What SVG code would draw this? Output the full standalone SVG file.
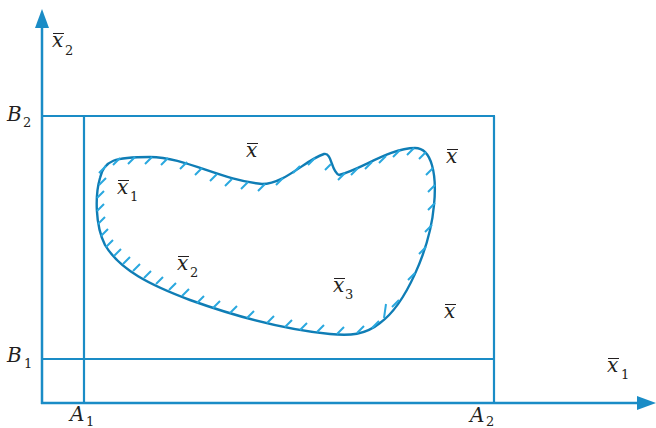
<svg xmlns="http://www.w3.org/2000/svg" width="656" height="428" viewBox="0 0 656 428">
<style>
.frame{stroke:#1a8cc6;stroke-width:2.2;fill:none}
.axis{stroke:#1a8cc6;stroke-width:2.5;fill:none}
.head{fill:#1a8cc6}
.blob{stroke:#0f7db5;stroke-width:2.4;fill:none}
.hatch{stroke:#2aa8df;stroke-width:2;fill:none;stroke-linecap:butt}
.bar{stroke:#231f20;stroke-width:1}
</style>
<rect width="656" height="428" fill="#ffffff"/>
<g id="connectors">
<line class="axis" x1="42" y1="404" x2="42" y2="26"/>
<polygon class="head" points="42,9 35,28 49,28"/>
<line class="axis" x1="41" y1="403" x2="640" y2="403"/>
<polygon class="head" points="656,403 637,396 637,410"/>
<line class="frame" x1="42" y1="116" x2="495" y2="116"/>
<line class="frame" x1="42" y1="359" x2="495" y2="359"/>
<line class="frame" x1="84" y1="116" x2="84" y2="403"/>
<line class="frame" x1="494" y1="116" x2="494" y2="403"/>
</g>
<g id="region">
<path class="blob" d="M100,178 C104,160 115,157 150,157 C185,157 220,180 262,184 C285,184 305,160 324,154 C332,152 331,172 339,175 C360,170 390,148 415,148 C432,148 437,175 434,205 C430,250 405,305 380,323 C365,335 350,336 330,334 C290,330 240,318 190,300 C150,285 120,270 105,245 C95,225 95,195 100,178 Z"/>
<path class="hatch" d="M106,166 l-7,7 M120,158 l-7,7 M135,157 l-7,7 M152,157 l-7,7 M168,158 l-7,7 M187,162 l-7,7 M202,168 l-7,7 M217,174 l-7,7 M232,179 l-7,7 M248,182 l-7,7 M265,184 l-7,7 M283,178 l-7,7 M300,166 l-7,7 M315,158 l-7,7 M331,164 l-6,6 M345,173 l-7,7 M358,168 l-7,7 M372,162 l-7,7 M386,156 l-7,7 M400,150 l-7,7 M414,148 l-7,7
M426,152 l-7,7 M433,168 l-7,7 M435,185 l-7,7 M435,203 l-7,7 M432,225 l-7,7 M426,247 l-7,7 M415,273 l-7,7 M399,300 l-7,7
M197,303 l7,-7 M213,308 l7,-7 M230,313 l7,-7 M247,318 l7,-7 M267,323 l7,-7 M285,327 l7,-7 M300,330 l7,-7 M317,332 l7,-7 M337,334 l7,-7 M357,333 l7,-7 M372,328 l7,-7 M384,318 l2,-14
M99,185 l7,-7 M97,198 l7,-7 M97,211 l7,-7 M98,224 l7,-7 M101,236 l7,-7 M106,247 l7,-7 M114,256 l7,-7 M123,264 l7,-7 M133,271 l7,-7 M144,278 l7,-7 M156,284 l7,-7 M169,290 l7,-7 M182,296 l7,-7"/>
</g>
<g font-family="DejaVu Serif, Liberation Serif, serif" fill="#231f20">
<g font-style="italic" font-size="20">
<g id="label-x2-axis"><text x="52" y="47">x</text><text font-style="normal" font-size="13" x="65" y="55">2</text><line class="bar" x1="53" y1="33.5" x2="64" y2="33.5"/></g>
<g id="label-x1-axis"><text x="607" y="372">x</text><text font-style="normal" font-size="13" x="621" y="379">1</text><line class="bar" x1="608" y1="358.5" x2="619" y2="358.5"/></g>
<g id="label-B2"><text x="7" y="121">B</text><text font-style="normal" font-size="13" x="23" y="127">2</text></g>
<g id="label-B1"><text x="7" y="362">B</text><text font-style="normal" font-size="13" x="24" y="368">1</text></g>
<g id="label-A1"><text x="70" y="421">A</text><text font-style="normal" font-size="13" x="86" y="426">1</text></g>
<g id="label-A2"><text x="470" y="422">A</text><text font-style="normal" font-size="13" x="486" y="426">2</text></g>
<g id="label-x-top"><text x="246" y="157">x</text><line class="bar" x1="247" y1="143.5" x2="258" y2="143.5"/></g>
<g id="label-x-right"><text x="446" y="163">x</text><line class="bar" x1="447" y1="149.5" x2="458" y2="149.5"/></g>
<g id="label-x-bottom"><text x="444" y="318">x</text><line class="bar" x1="445" y1="304.5" x2="456" y2="304.5"/></g>
<g id="label-x1"><text x="117" y="194">x</text><text font-style="normal" font-size="13" x="130" y="201">1</text><line class="bar" x1="118" y1="180.5" x2="129" y2="180.5"/></g>
<g id="label-x2"><text x="177" y="270">x</text><text font-style="normal" font-size="13" x="190" y="277">2</text><line class="bar" x1="178" y1="256.5" x2="189" y2="256.5"/></g>
<g id="label-x3"><text x="333" y="292">x</text><text font-style="normal" font-size="13" x="345" y="299">3</text><line class="bar" x1="334" y1="278.5" x2="345" y2="278.5"/></g>
</g>
</g>
</svg>
